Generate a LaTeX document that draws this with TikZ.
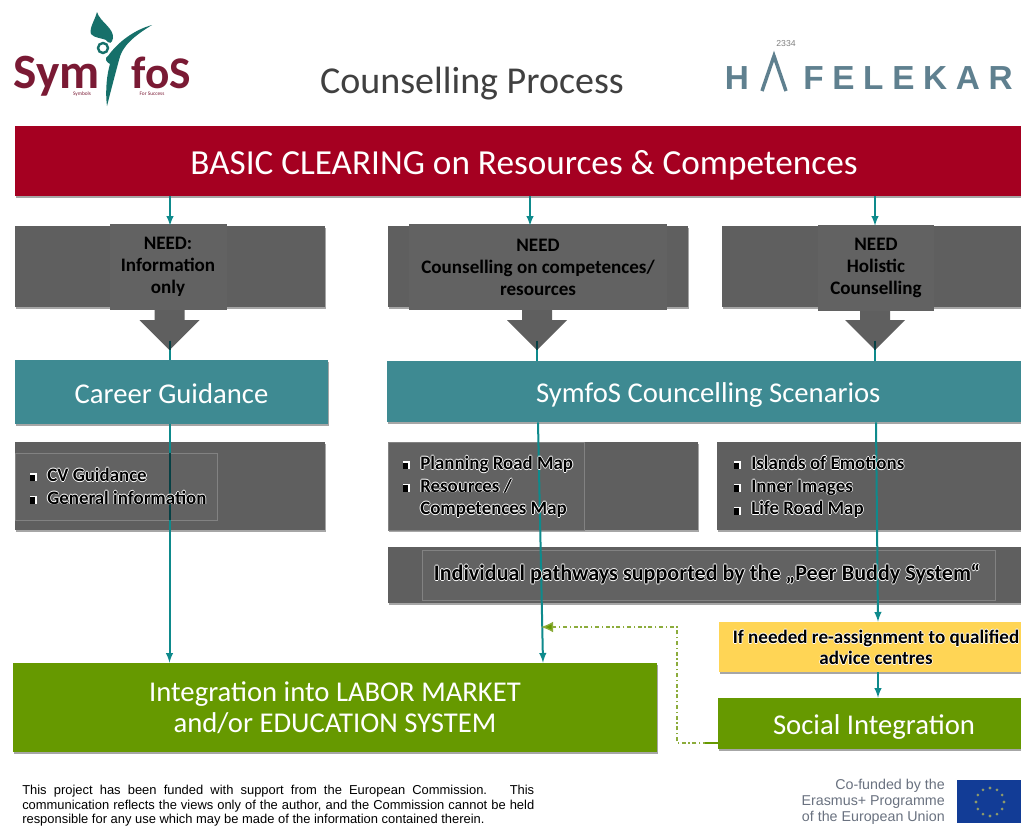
\documentclass[tikz,border=0pt]{standalone}
\usepackage{fontspec}
\setmainfont{Carlito}
\newfontfamily\arialfont{Liberation Sans}
\usetikzlibrary{arrows,arrows.meta,calc,shadows}

\definecolor{basicred}{HTML}{A50021}
\definecolor{needgrey}{HTML}{5F5F5F}
\definecolor{stripgrey}{HTML}{626262}
\definecolor{scenteal}{HTML}{3E8A92}
\definecolor{linkteal}{HTML}{0E8A8C}
\definecolor{darkteal}{HTML}{064044}
\definecolor{intgreen}{HTML}{669900}
\definecolor{backgreen}{HTML}{8CAC3C}
\definecolor{adviceyellow}{HTML}{FFD555}
\definecolor{symred}{HTML}{7A1A34}
\definecolor{symgreen}{HTML}{16706A}
\definecolor{hafblue}{HTML}{5F808F}
\definecolor{eublue}{HTML}{123C96}
\definecolor{eustar}{HTML}{8E9A6A}
\definecolor{eutext}{HTML}{6A7280}

\newcommand{\halotxt}[1]{\leavevmode\rlap{\color{white}\kern-.6pt#1}\rlap{\color{white}\kern.6pt#1}\rlap{\color{white}\raise.6pt\hbox{#1}}\rlap{\color{white}\lower.6pt\hbox{#1}}#1}
\newcommand{\bul}{\llap{\color{white}\rule{5pt}{6pt}\kern-5pt\color{black}\rule{4pt}{5pt}\kern9pt}}
\newcommand{\lowtxt}[2]{\raisebox{-#1}[0pt][0pt]{#2}}

\begin{document}
\begin{tikzpicture}[
		x=.75pt, y=-.75pt,
		wh/.style 2 args={minimum width=#1*.75pt, minimum height=#2*.75pt, inner sep=0pt, align=center},
		softshadow/.style={drop shadow={shadow xshift=.8pt, shadow yshift=-1.6pt, fill=black, opacity=.35}},
		band/.style={softshadow, text=white, font=\fontsize{21.5}{23.5}\selectfont},
		needbox/.style={fill=needgrey, softshadow},
		needstrip/.style={fill=stripgrey, font=\bfseries\fontsize{14.3}{16.5}\selectfont},
		outline/.style={draw=white!22!needgrey, line width=.4pt, fill=stripgrey},
		itemtxt/.style={anchor=north west, inner sep=0pt, align=left, font=\bfseries\fontsize{14.2}{17}\selectfont},
		logotxt/.style={anchor=base, text=symred, inner sep=0pt, text depth=0pt},
		downarrow/.pic={
			\fill[needgrey] (-15,-22.5) -- (15,-22.5) -- (15,-7.5) -- (30,-7.5) -- (0,22.5) -- (-30,-7.5) -- (-15,-7.5) -- cycle;
			\coordinate (-tip) at (0,22.5);
		},
		flow/.style={-latex, draw=linkteal, line width=1.5pt},
		darkflow/.style={draw=darkteal, line width=1.5pt},
		back/.style={-{Latex[length=9pt,width=8pt,fill=intgreen]}, draw=backgreen, line width=1pt, dash dot},
	]
	\useasboundingbox (0,0) rectangle (1021,825);
	\fill[white] (0,0) rectangle (1021,825);

	% logos
	\fill[symgreen] (97,12) .. controls (100,22) and (114,28) .. (113,38) .. controls (112,44) and (109,44) .. (106,40) .. controls (102,38) and (94,38) .. (91,34) .. controls (89,28) and (95,20) .. (97,12) -- cycle;
	\fill[symgreen] (152,25) .. controls (134,36) and (122,46) .. (119,60) .. controls (115,75) and (111,90) .. (107,106) .. controls (105,90) and (107,74) .. (110,64) .. controls (106,62) and (104,58) .. (108,56) .. controls (118,42) and (134,30) .. (152,25) -- cycle;
	\draw[symgreen, line width=1.8pt] (103,48) circle (5);
	\node at (57,88) (symleft) [logotxt, font=\bfseries\fontsize{37}{37}\selectfont] {Sym};
	\node at (161.5,88) (symright) [logotxt, font=\bfseries\fontsize{34}{34}\selectfont] {foS};
	\node at (82,95) (symsmalla) [logotxt, font=\fontsize{4}{4}\selectfont] {Symbols};
	\node at (152,95) (symsmallb) [logotxt, font=\fontsize{4}{4}\selectfont] {For Success};
	\node at (786,44) (hafnum) [text=gray, font=\arialfont\fontsize{6.5}{7}\selectfont] {2334};
	\node at (737,78) (hafh) [text=hafblue, font=\arialfont\bfseries\fontsize{25}{25}\selectfont] {H};
	\draw[hafblue, line width=2.6pt] (762,91) -- (774,56) -- (786,91);
	\node at (908,78) (hafrest) [text=hafblue, font=\arialfont\bfseries\fontsize{25}{25}\addfontfeature{LetterSpace=26}\selectfont] {FELEKAR};

	\node at (472,84) (title) [text=black!75, font=\fontsize{28.5}{32}\selectfont] {Counselling Process};

	% boxes
	\node at (540,161) (basic) [wh={1050}{70}, band, fill=basicred, font=\fontsize{26.4}{30}\selectfont] {\lowtxt{9.75pt}{BASIC CLEARING on Resources \& Competences\hspace*{24pt}}};

	\node at (170,266.5) (needa) [wh={310}{81}, needbox] {};
	\node at (538,266.5) (needb) [wh={300}{81}, needbox] {};
	\node at (877,266.5) (needc) [wh={310}{81}, needbox] {};

	\pic (arra) at (169.5,327.5) {downarrow};
	\pic (arrb) at (537,327.5) {downarrow};
	\pic (arrc) at (875,327.5) {downarrow};

	\node at (168,267) (stripa) [wh={117}{86}, needstrip] {NEED:\\Information\\only};
	\node at (538,267) (stripb) [wh={258}{86}, needstrip] {NEED\\Counselling on competences/\\resources};
	\node at (876,268) (stripc) [wh={116}{86}, needstrip] {NEED\\Holistic\\Counselling};

	\node at (171.5,392) (career) [wh={313}{64}, band, fill=scenteal] {\lowtxt{8.8pt}{Career Guidance}};
	\node at (715,391.5) (scen) [wh={656}{61}, band, fill=scenteal] {\lowtxt{8.5pt}{SymfoS Councelling Scenarios\hspace*{10pt}}};

	\node at (170,486) (lista) [wh={310}{88}, needbox] {};
	\node at (543,486) (listb) [wh={310}{88}, needbox] {};
	\node at (878.5,486) (listc) [wh={323}{88}, needbox] {};
	\node at (714,575) (indiv) [wh={652}{56}, needbox] {};

	\node at (116,486.5) (framea) [wh={202}{67}, outline] {};
	\node at (486,486) (frameb) [wh={196}{88}, outline] {};
	\node at (708.5,575) (framec) [wh={573}{50}, outline] {};

	\node at (879.5,647) (advice) [wh={321}{50}, softshadow, fill=adviceyellow] {};
	\node at (881,723.5) (social) [wh={326}{51}, band, fill=intgreen] {\lowtxt{8.5pt}{Social Integration\hspace*{10.5pt}}};
	\node at (335,707.5) (integ) [wh={644}{89}, band, fill=intgreen] {Integration into LABOR MARKET\\and/or EDUCATION SYSTEM};

	% connectors
	\coordinate (topa) at (170,0);
	\coordinate (topb) at (530,0);
	\coordinate (topc) at (875,0);
	\coordinate (cola) at (169.5,0);
	\coordinate (colb) at (538,0);
	\coordinate (colbb) at (543,0);
	\coordinate (colc) at (876,0);
	\coordinate (colcc) at (878,0);
	\coordinate (backlow) at (677,743);
	\coordinate (backup) at (677,627);
	\coordinate (backend) at (541,627);

	\draw[flow] (basic.south -| topa) -- (needa.north -| topa);
	\draw[flow] (basic.south -| topb) -- (needb.north -| topb);
	\draw[flow] (basic.south -| topc) -- (needc.north -| topc);

	\draw[flow, -] (arra-tip) -- (career.north -| arra-tip);
	\draw[flow, -] (arrb-tip) -- (scen.north -| arrb-tip);
	\draw[flow, -] (arrc-tip) -- (scen.north -| arrc-tip);
	\foreach \n in {arra,arrb,arrc}
		\draw[darkflow] ([yshift=7pt]\n-tip) -- (\n-tip);

	\draw[flow] (career.south -| cola) -- (integ.north -| cola);
	\draw[darkflow] (framea.north -| cola) -- (framea.south -| cola);
	\draw[flow] (scen.south -| colb) -- (integ.north -| colbb);
	\draw[flow] (scen.south -| colc) -- (advice.north -| colcc);
	\draw[flow] (advice.south -| colcc) -- (social.north -| colcc);

	\draw[back] (social.west |- backlow) -- (backlow) -- (backup) -- (backend);
	\draw[intgreen, line width=1.4pt] (social.west |- backlow) -- ++(-13,0);

	% texts
	\node at (47,467) (itemsa) [itemtxt] {\bul\halotxt{CV Guidance}\\\bul\halotxt{General information}};
	\node at (420,455) (itemsb) [itemtxt] {\bul\halotxt{Planning Road Map}\\\bul\halotxt{Resources /}\\\halotxt{Competences Map}};
	\node at (751,455) (itemsc) [itemtxt] {\bul\halotxt{Islands of Emotions}\\\bul\halotxt{Inner Images}\\\bul\halotxt{Life Road Map}};
	\node at (707,574) (indivtxt) [inner sep=0pt, font=\bfseries\fontsize{16.6}{20}\selectfont] {\halotxt{Individual pathways supported by the „Peer Buddy System“}};
	\node at (876,647.5) (advicetxt) [inner sep=0pt, align=center, font=\bfseries\fontsize{14.3}{16}\selectfont] {\halotxt{If needed re-assignment to qualified}\\\halotxt{advice centres}};

	% footer
	\node at (22,785) (fund) [anchor=north west, inner sep=0pt, text width=384pt, align=justify, font=\arialfont\fontsize{9.7}{11}\selectfont] {This project has been funded with support from the European Commission. \ This\linebreak communication reflects the views only of the author, and the Commission cannot be held responsible for any use which may be made of the information contained therein.};
	\node at (945,802) (cofund) [anchor=east, inner sep=0pt, align=right, text=eutext, font=\arialfont\fontsize{10.7}{12}\selectfont] {Co-funded by the\\Erasmus+ Programme\\of the European Union};
	\node at (1001,801.5) (euflag) [wh={88}{43}, fill=eublue] {};
	\foreach \a in {0,30,...,330}
		\fill[eustar] ($(990,802)+(\a:14)$) circle (1.6);
\end{tikzpicture}
\end{document}
